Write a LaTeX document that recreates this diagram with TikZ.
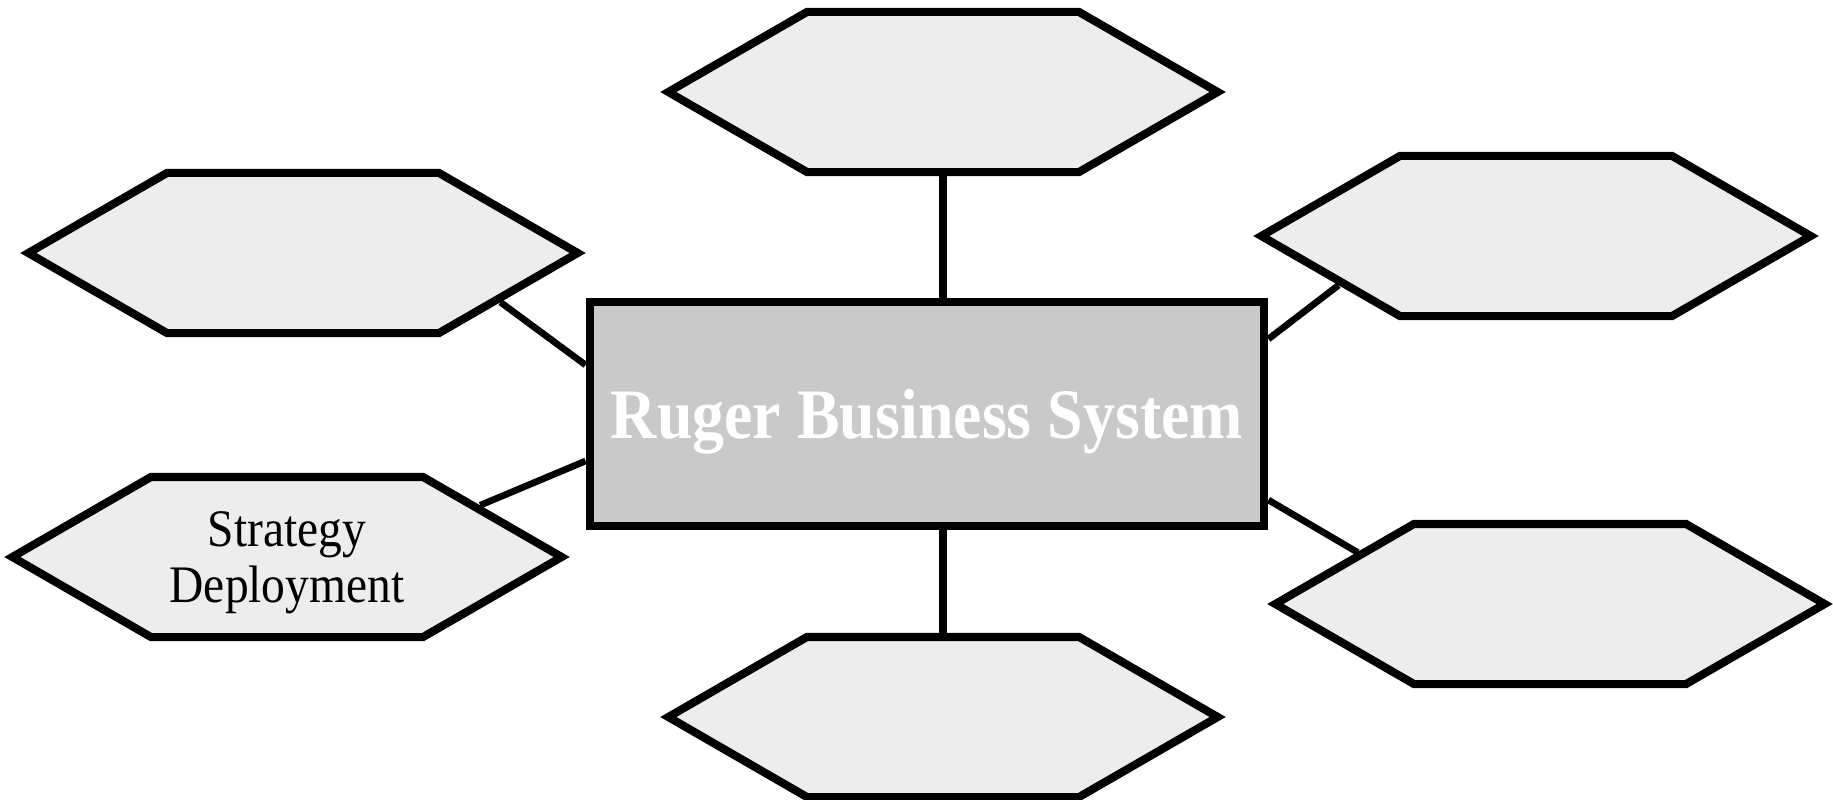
\documentclass[tikz,border=0pt]{standalone}
\usepackage{fontspec}
\setmainfont[FakeStretch=0.9]{Liberation Serif}
\usetikzlibrary{shapes.symbols,calc}
\definecolor{hexfill}{RGB}{237,237,237}
\definecolor{boxfill}{RGB}{201,201,201}
\begin{document}
\begin{tikzpicture}[x=0.01cm, y=-0.01cm,
    hexa/.style={signal, signal to=east and west, signal pointer angle=60, draw, line width=2.3pt,
      fill=hexfill, minimum width=5.49cm, minimum height=1.6cm, inner sep=0pt},
    core/.style={draw, line width=2.4pt, fill=boxfill, minimum width=6.74cm, minimum height=2.24cm,
      text=white, text height=0.6cm, text depth=0.11cm, font=\fontsize{20.2}{22}\selectfont\bfseries},
    link/.style={line width=1.9pt}, stem/.style={line width=2.3pt}]
    \useasboundingbox (0,0) rectangle (1833,800);

    \node[core] (rbs) at (927,414) {Ruger Business System};

    \node[hexa] (up) at (943,92) {};
    \node[hexa] (upleft) at (303,253) {};
    \node[hexa, label={[name=stratlabel, align=center, yshift=-0.06cm,
      font=\fontsize{15}{16}\selectfont]center:Strategy\\Deployment}] (strat) at (287,557) {};
    \node[hexa] (upright) at (1536,236) {};
    \node[hexa] (lowright) at (1550,604) {};
    \node[hexa] (down) at (943,717) {};

    \draw[stem] (up.south) -- (up.south |- rbs.north);
    \draw[stem] (down.north) -- (down.north |- rbs.south);
    \draw[link] (upleft.-14) -- ($(rbs.west)+(0,-49)$);
    \draw[link] (strat.15) -- ($(rbs.west)+(0,47)$);
    \draw[link] (upright.-166) -- ($(rbs.east)+(0,-75)$);
    \draw[link] (lowright.165) -- ($(rbs.east)+(0,86)$);
\end{tikzpicture}
\end{document}
